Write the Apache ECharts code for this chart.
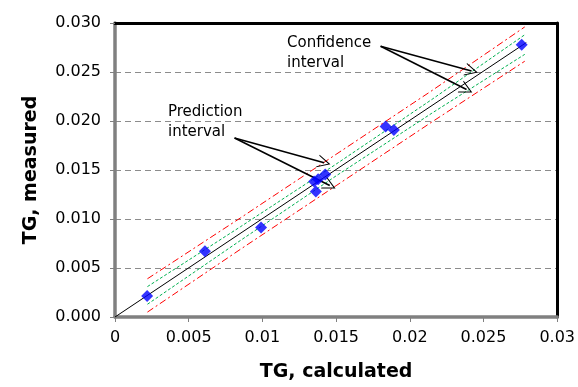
<!DOCTYPE html>
<html><head><meta charset="utf-8">
<script src="https://cdn.jsdelivr.net/npm/echarts@6/dist/echarts.min.js"></script>
<style>html,body{margin:0;padding:0;background:#fff}#c{width:578px;height:387px}</style>
</head><body><div id="c"></div>
<script>
// Data
var calcX = [0.00218, 0.00610, 0.00991, 0.01351, 0.01378, 0.01426, 0.01363, 0.01836, 0.01892, 0.02759];
var measY = [0.00214, 0.00672, 0.00913, 0.01382, 0.01405, 0.01455, 0.01281, 0.01944, 0.01909, 0.02779];
var fitX = [0, 0.0279];
var fitY = [0, 0.0280];
var bandX = [0.0022, 0.0085, 0.0150, 0.0215, 0.0278];
var predUpper = [0.0039, 0.0101, 0.0166, 0.0231, 0.0296];
var predLower = [0.0005, 0.0069, 0.0134, 0.0199, 0.0261];
var confUpper = [0.0031, 0.0092, 0.0156, 0.0222, 0.0288];
var confLower = [0.0013, 0.0078, 0.0144, 0.0208, 0.0268];
var xTicks = [0, 0.005, 0.01, 0.015, 0.02, 0.025, 0.03];
var yTicks = [0, 0.005, 0.010, 0.015, 0.020, 0.025, 0.030];
// annotation arrows (data coords): start, end
var confArrows = [[[0.01802, 0.02762], [0.02419, 0.02511]], [[0.01802, 0.02762], [0.02385, 0.02321]]];
var predArrows = [[[0.00811, 0.01826], [0.01419, 0.01575]], [[0.00811, 0.01826], [0.01457, 0.01341]]];

function zip(a, b) { return a.map(function (v, i) { return [v, b[i]]; }); }

var chart = echarts.init(document.getElementById('c'));
var font = 'DejaVu Sans, Liberation Sans, Arial, sans-serif';
var chevron = 'path://M0,0 L9,14 L7.5,14 L0,2.5 L-7.5,14 L-9,14 Z';

function arrowLines(arr) {
  return arr.map(function (p) { return [{ coord: p[0] }, { coord: p[1] }]; });
}

var option = {
  animation: false,
  backgroundColor: '#fff',
  grid: { left: 115, right: 19, top: 23, bottom: 65 },
  xAxis: [{
    type: 'value', min: 0, max: 0.03, interval: 0.005,
    name: 'TG, calculated', nameLocation: 'middle', nameGap: 46,
    nameTextStyle: { fontFamily: font, fontSize: 19, fontWeight: 'bold', color: '#000' },
    axisLine: { onZero: false, lineStyle: { color: '#808080', width: 3.5 } },
    axisTick: { show: true, length: 5, lineStyle: { color: '#808080', width: 1 } },
    axisLabel: { fontFamily: font, fontSize: 16, color: '#000', margin: 13,
      formatter: function (v) { var i = xTicks.findIndex(function (t) { return Math.abs(t - v) < 1e-9; }); return i >= 0 ? String(xTicks[i]) : ''; } },
    splitLine: { show: false }
  }, {
    type: 'value', position: 'top', min: 0, max: 0.03, interval: 0.005,
    axisLine: { show: true, onZero: false, lineStyle: { color: '#000', width: 3 } },
    axisTick: { show: false }, axisLabel: { show: false }, splitLine: { show: false }
  }],
  yAxis: [{
    type: 'value', min: 0, max: 0.03, interval: 0.005,
    name: 'TG, measured', nameLocation: 'middle', nameGap: 74, nameRotate: 90,
    nameTextStyle: { fontFamily: font, fontSize: 19, fontWeight: 'bold', color: '#000' },
    axisLine: { show: true, onZero: false, lineStyle: { color: '#808080', width: 3.5 } },
    axisTick: { show: true, length: 5, lineStyle: { color: '#808080', width: 1 } },
    axisLabel: { fontFamily: font, fontSize: 16, color: '#000', margin: 14,
      formatter: function (v) { return v.toFixed(3); } },
    splitLine: { show: true, lineStyle: { color: '#8c8c8c', type: [6, 4], width: 1.2 } }
  }, {
    type: 'value', position: 'right', min: 0, max: 0.03, interval: 0.005,
    axisLine: { show: true, onZero: false, lineStyle: { color: '#000', width: 3 } },
    axisTick: { show: false }, axisLabel: { show: false }, splitLine: { show: false }
  }],
  series: [
    { type: 'line', data: zip(bandX, predUpper), symbol: 'none', lineStyle: { color: '#ff0000', width: 1, type: [7, 3, 2, 3] }, z: 3 },
    { type: 'line', data: zip(bandX, predLower), symbol: 'none', lineStyle: { color: '#ff0000', width: 1, type: [7, 3, 2, 3] }, z: 3 },
    { type: 'line', data: zip(bandX, confUpper), symbol: 'none', lineStyle: { color: '#00b050', width: 1, type: [3, 2] }, z: 3 },
    { type: 'line', data: zip(bandX, confLower), symbol: 'none', lineStyle: { color: '#00b050', width: 1, type: [3, 2] }, z: 3 },
    { type: 'line', data: zip(fitX, fitY), symbol: 'none', lineStyle: { color: '#000', width: 1 }, z: 4 },
    { type: 'scatter', data: zip(calcX, measY), symbol: 'diamond', symbolSize: 12,
      itemStyle: { color: '#0000ff' }, z: 5 },
    { type: 'line', data: [], z: 6,
      markLine: { silent: true, symbol: ['none', chevron], symbolSize: [13, 13], symbolOffset: [0, 0],
        label: { show: false }, lineStyle: { color: '#000', width: 1.6, type: 'solid' },
        data: arrowLines(confArrows).concat(arrowLines(predArrows)) } }
  ],
  graphic: [
    { type: 'text', left: 287, top: 33, style: { text: 'Confidence\ninterval', font: '15px ' + font, fill: '#000', lineHeight: 20 } },
    { type: 'text', left: 168, top: 102, style: { text: 'Prediction\ninterval', font: '15px ' + font, fill: '#000', lineHeight: 20 } }
  ]
};
chart.setOption(option);
</script>
</body></html>
